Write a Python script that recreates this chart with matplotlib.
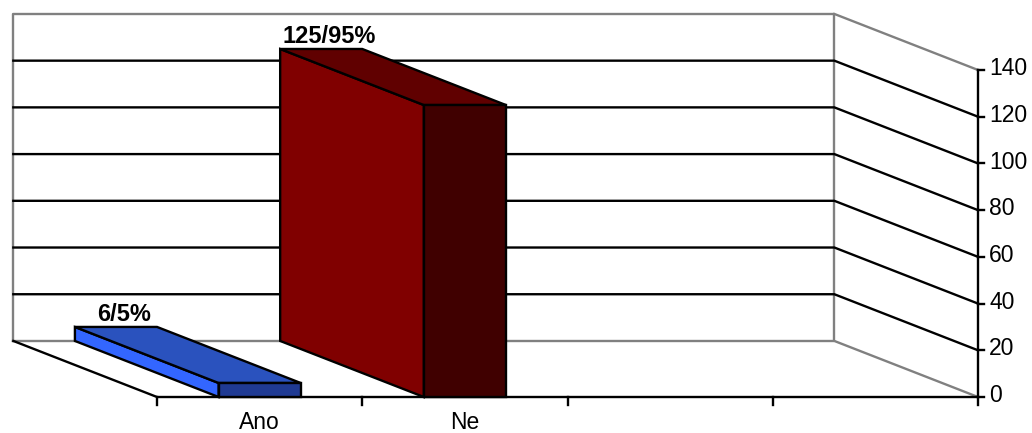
import matplotlib.pyplot as plt
from matplotlib.patches import Polygon

plt.rcParams['font.family'] = ['Liberation Sans', 'DejaVu Sans']

# data
categories = ['Ano', 'Ne', '', '']
values = [6, 125]
labels = ['6/5%', '125/95%']
yticks = [0, 20, 40, 60, 80, 100, 120, 140]
ymax = 140

# face colours: side, top, front
face_colors = [
    ('#3366FF', '#2A52BE', '#1F3A93'),
    ('#800000', '#600000', '#400000'),
]

# oblique depth vector (category units, value units)
DX, DY = -0.70, 24.0
bar_w = 0.4
ncat = len(categories)

fig = plt.figure(figsize=(10.32, 4.33), dpi=100)
ax = fig.add_axes([0, 0, 1, 1])
ax.set_xlim(-0.765, 4.263)
ax.set_ylim(-15.41, 169.97)
ax.axis('off')

gray = '#808080'
lw = 1.7

# back wall
ax.plot([DX, DX, ncat + DX, ncat + DX, DX],
        [DY, ymax + DY, ymax + DY, DY, DY], color=gray, lw=lw, zorder=1)
# right wall edges
ax.plot([ncat + DX, ncat], [ymax + DY, ymax], color=gray, lw=lw, zorder=1)
ax.plot([ncat + DX, ncat], [DY, 0], color=gray, lw=lw, zorder=1)

# gridlines on back and side walls
for t in yticks[1:-1]:
    ax.plot([DX, ncat + DX, ncat], [t + DY, t + DY, t],
            color='black', lw=lw, zorder=1)

# floor edges
ax.plot([DX, 0, ncat], [DY, 0, 0], color='black', lw=lw, zorder=2)

# value axis on the front right
ax.plot([ncat, ncat], [0, ymax], color='black', lw=lw, zorder=2)
for t in yticks:
    ax.plot([ncat, ncat + 0.03], [t, t], color='black', lw=lw, zorder=2)
    ax.text(ncat + 0.055, t + 0.6, str(t), ha='left', va='center',
            fontsize=16.5)

# category ticks and labels
for i in range(ncat + 1):
    ax.plot([i, i], [0, -3.5], color='black', lw=lw, zorder=2)
for i, c in enumerate(categories):
    ax.text(i + 0.5, -13.6, c, ha='center', va='baseline', fontsize=16.5)

# 3D bars
for i, (v, lab) in enumerate(zip(values, labels)):
    side_c, top_c, front_c = face_colors[i]
    x0 = i + 0.5 - bar_w / 2
    x1 = x0 + bar_w
    side = [(x0, 0), (x0, v), (x0 + DX, v + DY), (x0 + DX, DY)]
    top = [(x0, v), (x1, v), (x1 + DX, v + DY), (x0 + DX, v + DY)]
    front = [(x0, 0), (x1, 0), (x1, v), (x0, v)]
    for pts, fc in ((side, side_c), (top, top_c), (front, front_c)):
        ax.add_patch(Polygon(pts, closed=True, facecolor=fc,
                             edgecolor='black', lw=lw, zorder=3))
    ax.text(x0 + DX + bar_w / 2 + 0.04, v + DY + 2.6, lab,
            ha='center', va='baseline',
            fontsize=17, fontweight='bold', zorder=4)

fig.savefig('out.png', dpi=100)
